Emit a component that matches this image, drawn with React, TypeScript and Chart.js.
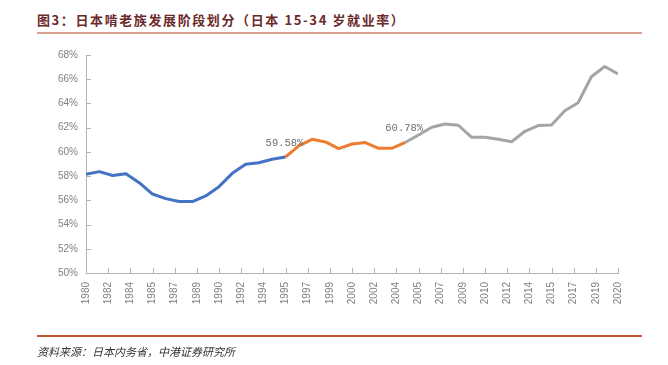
import React, { useEffect, useRef } from 'react';
import { Chart, registerables } from 'chart.js';

Chart.register(...registerables);

// ---- data ----
const years = [
  1980, 1981, 1982, 1983, 1984, 1985, 1986, 1987, 1988, 1989,
  1990, 1991, 1992, 1993, 1994, 1995, 1996, 1997, 1998, 1999,
  2000, 2001, 2002, 2003, 2004, 2005, 2006, 2007, 2008, 2009,
  2010, 2011, 2012, 2013, 2014, 2015, 2016, 2017, 2018, 2019, 2020,
];
const employmentRate = [
  58.15, 58.37, 58.05, 58.2, 57.46, 56.52, 56.14, 55.9, 55.9, 56.36,
  57.13, 58.23, 58.97, 59.1, 59.39, 59.58, 60.49, 61.04, 60.82, 60.27,
  60.65, 60.77, 60.3, 60.3, 60.78, 61.4, 62.03, 62.3, 62.2, 61.2,
  61.2, 61.04, 60.84, 61.7, 62.17, 62.22, 63.4, 64.06, 66.2, 67.05, 66.43,
];
const phaseStartYears = [1980, 1995, 2004];
const phaseEndYears = [1995, 2004, 2020];
const phaseColors = ['#4472C4', '#ED7D31', '#A5A5A5'];
const annotatedYears = [1995, 2004];
const xTickLabels = [
  '1980', '1982', '1984', '1985', '1987', '1989', '1990', '1992', '1994',
  '1995', '1997', '1999', '2000', '2002', '2004', '2005', '2007', '2009',
  '2010', '2012', '2014', '2015', '2017', '2019', '2020',
];
const yMin = 50;
const yMax = 68;
const yStep = 2;

const title = '图3：日本啃老族发展阶段划分（日本 15-34 岁就业率）';
const source = '资料来源：日本内务省，中港证券研究所';

const AXIS_COLOR = '#b4b4b4';
const LABEL_COLOR = '#7f7f7f';

const innerTicksPlugin = {
  id: 'innerTicks',
  beforeDatasetsDraw(chart: any) {
    const { ctx, chartArea, scales } = chart;
    ctx.save();
    ctx.strokeStyle = AXIS_COLOR;
    ctx.lineWidth = 1;
    ctx.beginPath();
    scales.y.ticks.forEach((t: any) => {
      const y = Math.round(scales.y.getPixelForValue(t.value)) + 0.5;
      ctx.moveTo(chartArea.left, y);
      ctx.lineTo(chartArea.left + 5, y);
    });
    scales.x.ticks.forEach((t: any) => {
      const x = Math.round(scales.x.getPixelForValue(t.value)) + 0.5;
      ctx.moveTo(x, chartArea.bottom);
      ctx.lineTo(x, chartArea.bottom - 5);
    });
    ctx.stroke();
    ctx.restore();
  },
};

const pointLabelPlugin = {
  id: 'pointLabels',
  afterDatasetsDraw(chart: any) {
    const { ctx, scales } = chart;
    ctx.save();
    ctx.font = '10.5px "Liberation Mono", "DejaVu Sans Mono", monospace';
    ctx.fillStyle = '#6f6f6f';
    ctx.textAlign = 'center';
    ctx.textBaseline = 'bottom';
    annotatedYears.forEach((yr) => {
      const i = years.indexOf(yr);
      const v = employmentRate[i];
      const x = scales.x.getPixelForValue(yr);
      const y = scales.y.getPixelForValue(v);
      ctx.fillText(v.toFixed(2) + '%', x - 1, y - 9);
    });
    ctx.restore();
  },
};

export default function App() {
  const canvasRef = useRef<HTMLCanvasElement | null>(null);

  useEffect(() => {
    if (!canvasRef.current) return;
    const datasets = phaseStartYears.map((s, k) => {
      const a = years.indexOf(s);
      const b = years.indexOf(phaseEndYears[k]);
      return {
        data: years.slice(a, b + 1).map((yr, j) => ({ x: yr, y: employmentRate[a + j] })),
        borderColor: phaseColors[k],
        backgroundColor: phaseColors[k],
        borderWidth: 3,
        pointRadius: 0,
        tension: 0,
        fill: false,
        borderCapStyle: 'butt' as const,
        borderJoinStyle: 'round' as const,
      };
    });

    const chart = new Chart(canvasRef.current, {
      type: 'line',
      data: { datasets },
      options: {
        animation: false,
        responsive: true,
        maintainAspectRatio: false,
        layout: { padding: { left: 0, right: 50, top: 55, bottom: 0 } },
        plugins: {
          legend: { display: false },
          tooltip: { enabled: false },
        },
        scales: {
          x: {
            type: 'linear',
            min: years[0],
            max: years[years.length - 1],
            offset: false,
            grid: { display: true, drawOnChartArea: false, drawTicks: false },
            border: { display: true, color: AXIS_COLOR, width: 1 },
            afterBuildTicks: (scale: any) => {
              const n = xTickLabels.length;
              const span = years[years.length - 1] - years[0];
              scale.ticks = xTickLabels.map((_, i) => ({ value: years[0] + (i * span) / (n - 1) }));
            },
            afterFit: (scale: any) => {
              scale.height = 92;
            },
            ticks: {
              autoSkip: false,
              maxRotation: 90,
              minRotation: 90,
              padding: 9,
              color: LABEL_COLOR,
              font: { family: '"Liberation Sans", Arial, sans-serif', size: 10 },
              callback: (_v: any, i: number) => xTickLabels[i],
            },
          },
          y: {
            min: yMin,
            max: yMax,
            grid: { display: true, drawOnChartArea: false, drawTicks: false },
            border: { display: true, color: AXIS_COLOR, width: 1 },
            afterFit: (scale: any) => {
              scale.width = 86;
            },
            ticks: {
              stepSize: yStep,
              padding: 8,
              color: LABEL_COLOR,
              font: { family: '"Liberation Sans", Arial, sans-serif', size: 10 },
              callback: (v: any) => v + '%',
            },
          },
        },
      },
      plugins: [innerTicksPlugin, pointLabelPlugin],
    });
    return () => chart.destroy();
  }, []);

  return (
    <div style={{ position: 'absolute', left: 0, top: 0, width: 668, height: 365, background: '#fff' }}>
      <div
        style={{
          position: 'absolute',
          left: 37,
          top: 12,
          fontFamily: '"Noto Sans CJK SC", "Noto Sans", sans-serif',
          fontWeight: 700,
          fontSize: 13,
          letterSpacing: '1.6px',
          lineHeight: '16px',
          color: '#6b2a2a',
          whiteSpace: 'nowrap',
        }}
      >
        {title}
      </div>
      <div style={{ position: 'absolute', left: 37, top: 32, width: 605, height: 2, background: '#d9a08f' }} />
      <div style={{ position: 'absolute', left: 0, top: 0, width: 668, height: 365 }}>
        <canvas ref={canvasRef} />
      </div>
      <div style={{ position: 'absolute', left: 37, top: 335, width: 605, height: 2, background: '#c9553a' }} />
      <div
        style={{
          position: 'absolute',
          left: 37,
          top: 344,
          fontFamily: '"Noto Sans CJK SC", sans-serif',
          fontStyle: 'italic',
          fontSize: 11,
          lineHeight: '14px',
          color: '#333',
          whiteSpace: 'nowrap',
        }}
      >
        {source}
      </div>
    </div>
  );
}
